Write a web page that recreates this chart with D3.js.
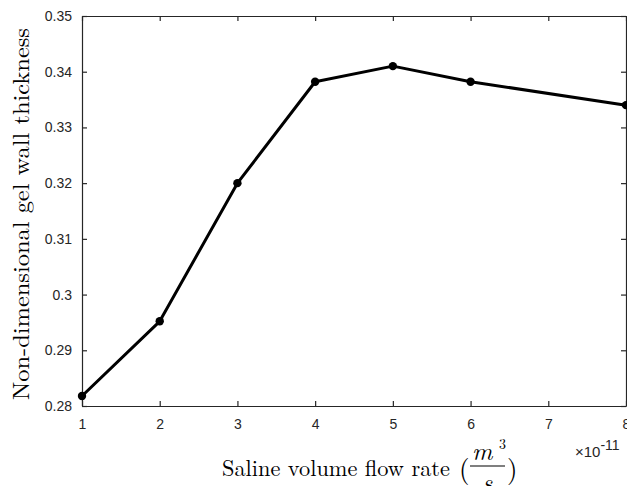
<!DOCTYPE html>
<html>
<head>
<meta charset="utf-8">
<script src="https://cdn.jsdelivr.net/npm/d3@7"></script>
<style>
  html, body { margin: 0; padding: 0; background: white; }
  svg { display: block; }
</style>
</head>
<body>
<script>
// flow rate in units of 1e-11 m^3/s
const flowRate = [1, 2, 3, 4, 5, 6, 8];
const thickness = [0.2818, 0.2952, 0.3200, 0.3382, 0.3410, 0.3382, 0.3340];
const xTicks = [1, 2, 3, 4, 5, 6, 7, 8];
const yTicks = [0.28, 0.29, 0.3, 0.31, 0.32, 0.33, 0.34, 0.35];

const width = 627;
const height = 486;
const margin = { left: 82, right: 1, top: 16, bottom: 80 };

const x = d3.scaleLinear().domain([1, 8]).range([margin.left, width - margin.right]);
const y = d3.scaleLinear().domain([0.28, 0.35]).range([height - margin.bottom, margin.top]);

const svg = d3.select('body').append('svg')
  .attr('width', width)
  .attr('height', height)
  .attr('viewBox', [0, 0, width, height])
  .style('background', 'white');

const tickFont = '"Liberation Sans", Arial, sans-serif';
const labelFont = '"Latin Modern Roman", "CMU Serif", "DejaVu Serif", "Liberation Serif", serif';

// axes (MATLAB style: ticks inside, box on)
const axBottom = svg.append('g')
  .attr('transform', `translate(0,${y(0.28)})`)
  .call(d3.axisBottom(x).tickValues(xTicks).tickSizeInner(-5).tickSizeOuter(0).tickPadding(13)
    .tickFormat(d3.format('d')));
const axLeft = svg.append('g')
  .attr('transform', `translate(${x(1)},0)`)
  .call(d3.axisLeft(y).tickValues(yTicks).tickSizeInner(-5).tickSizeOuter(0).tickPadding(10)
    .tickFormat((d) => d3.format('.2~f')(d)));
const axTop = svg.append('g')
  .attr('transform', `translate(0,${y(0.35)})`)
  .call(d3.axisTop(x).tickValues(xTicks).tickSizeInner(-5).tickSizeOuter(0).tickFormat(''));
const axRight = svg.append('g')
  .attr('transform', `translate(${x(8)},0)`)
  .call(d3.axisRight(y).tickValues(yTicks).tickSizeInner(-5).tickSizeOuter(0).tickFormat(''));

[axBottom, axLeft, axTop, axRight].forEach((g) => {
  g.selectAll('path').attr('stroke', '#262626').attr('stroke-width', 1.2);
  g.selectAll('line').attr('stroke', '#262626').attr('stroke-width', 1.2);
  g.selectAll('text').attr('fill', '#262626').attr('font-family', tickFont).attr('font-size', 14);
});

// data line
const pts = flowRate.map((d, i) => [d, thickness[i]]);
svg.append('path')
  .datum(pts)
  .attr('fill', 'none')
  .attr('stroke', 'black')
  .attr('stroke-width', 3)
  .attr('stroke-linejoin', 'round')
  .attr('d', d3.line().x((d) => x(d[0])).y((d) => y(d[1])));

svg.append('g')
  .selectAll('circle')
  .data(pts)
  .join('circle')
  .attr('cx', (d) => x(d[0]))
  .attr('cy', (d) => y(d[1]))
  .attr('r', 4.2)
  .attr('fill', 'black');

// y label
svg.append('text')
  .attr('transform', `translate(29,${(y(0.28) + y(0.35)) / 2 + 3}) rotate(-90)`)
  .attr('text-anchor', 'middle')
  .attr('font-family', labelFont)
  .attr('font-size', 23)
  .attr('textLength', 372)
  .attr('lengthAdjust', 'spacingAndGlyphs')
  .attr('fill', 'black')
  .text('Non-dimensional gel wall thickness');

// x label
svg.append('text')
  .attr('x', 222)
  .attr('y', 476)
  .attr('font-family', labelFont)
  .attr('font-size', 23)
  .attr('textLength', 228)
  .attr('lengthAdjust', 'spacingAndGlyphs')
  .attr('fill', 'black')
  .text('Saline volume flow rate');

const frac = svg.append('g').attr('font-family', labelFont).attr('fill', 'black');
frac.append('text')
  .attr('x', 459).attr('y', 478)
  .attr('font-size', 27)
  .text('(');
frac.append('text')
  .attr('x', 472).attr('y', 460)
  .attr('font-size', 25).attr('font-style', 'italic')
  .text('m');
frac.append('text')
  .attr('x', 499).attr('y', 449)
  .attr('font-size', 14)
  .text('3');
frac.append('line')
  .attr('x1', 470).attr('x2', 505)
  .attr('y1', 466).attr('y2', 466)
  .attr('stroke', 'black').attr('stroke-width', 1.2);
frac.append('text')
  .attr('x', 482).attr('y', 491)
  .attr('font-size', 25).attr('font-style', 'italic')
  .text('s');
frac.append('text')
  .attr('x', 507).attr('y', 478)
  .attr('font-size', 27)
  .text(')');

// exponent
const expo = svg.append('text')
  .attr('x', 575)
  .attr('y', 457)
  .attr('font-family', tickFont)
  .attr('fill', '#262626')
  .attr('font-size', 15);
expo.append('tspan').text('\u00d710');
expo.append('tspan').attr('dy', -7).attr('font-size', 14).text('-11');
</script>
</body>
</html>
